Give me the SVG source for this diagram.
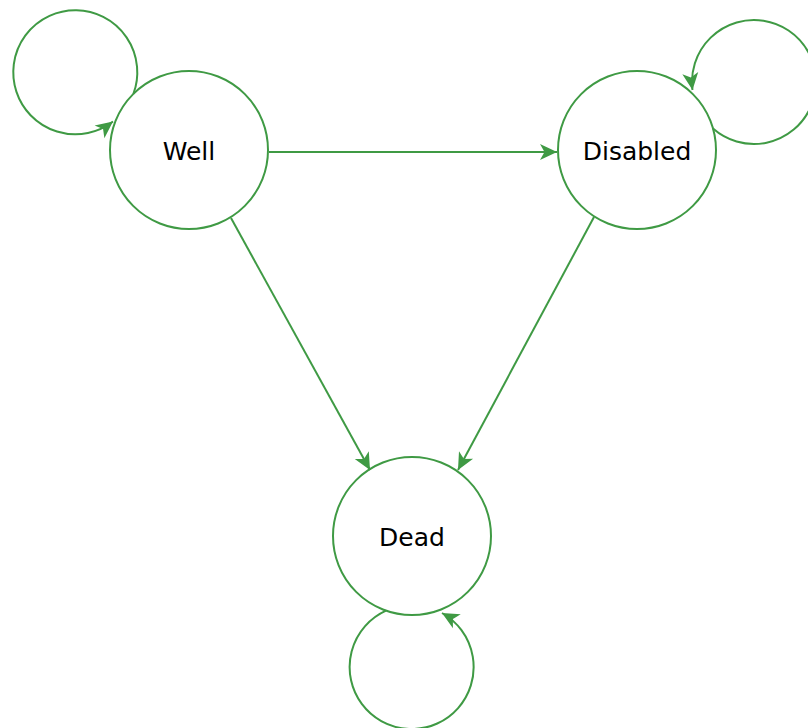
<svg xmlns="http://www.w3.org/2000/svg" width="808" height="728" viewBox="0 0 808 728">
<style>
.node{fill:#fff;stroke:#3f9a44;stroke-width:2}
.edge{fill:none;stroke:#3f9a44;stroke-width:2;marker-end:url(#arr)}
.lbl{font-family:"DejaVu Sans",Verdana,sans-serif;font-size:25px;fill:#000;text-anchor:middle}
</style>
<defs>
<marker id="arr" markerUnits="userSpaceOnUse" viewBox="-18 -9 19 18" refX="0" refY="0" markerWidth="19" markerHeight="18" orient="auto">
<path d="M0,0 L-17,-8 L-12.5,0 L-17,8 Z" fill="#3f9a44"/>
</marker>
</defs>
<g id="well">
<circle class="node" cx="189" cy="150" r="79"/>
<text class="lbl" x="189" y="160">Well</text>
</g>
<g id="disabled">
<circle class="node" cx="637" cy="150" r="79"/>
<text class="lbl" x="637" y="160">Disabled</text>
</g>
<g id="dead">
<circle class="node" cx="412" cy="536" r="79"/>
<text class="lbl" x="412" y="546">Dead</text>
</g>
<g id="connectors">
<path class="edge" d="M133.4,93.9 A62,62 0 1 0 113,121.5"/>
<path class="edge" d="M713,128.5 A62,62 0 1 0 692.5,90"/>
<path class="edge" d="M386,610.6 A62,62 0 1 0 442,613"/>
<path class="edge" d="M269,152 L557,152"/>
<path class="edge" d="M231,218 L370,470"/>
<path class="edge" d="M594,217 L458,470"/>
</g>
</svg>
